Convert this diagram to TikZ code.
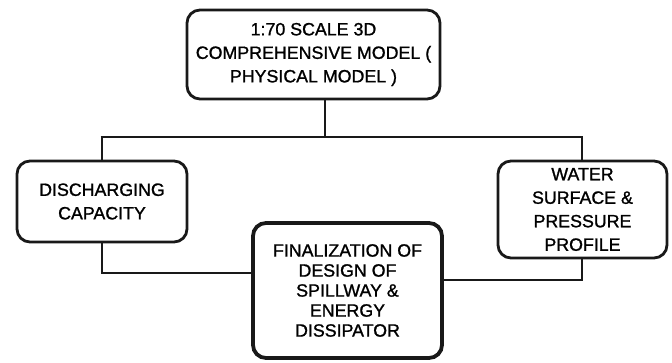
\documentclass[tikz,border=0pt]{standalone}
\usepackage{fontspec}
\setmainfont{Liberation Sans}
\newfontfamily\medfont{Liberation Sans}[FakeBold=1.2]
\begin{document}
\begin{tikzpicture}[x=1pt,y=-1pt,
  box/.style={draw=black!90, line width=2.8pt, rounded corners=13pt, align=center,
    inner sep=0pt, text=black, font=\medfont\fontsize{17.8}{23.5}\selectfont},
  boldbox/.style={box, line width=3.8pt, font=\medfont\fontsize{17.8}{20}\selectfont},
  link/.style={draw=black!90, line width=2.8pt}]
\useasboundingbox (0,0) rectangle (672,363);
\node[box, minimum width=253pt, minimum height=89pt] (top) at (313.5,54.5)
  {1:70 SCALE 3D\\COMPREHENSIVE MODEL (\\PHYSICAL MODEL )};
\node[box, minimum width=170pt, minimum height=81pt] (dis) at (102,201.5)
  {DISCHARGING\\CAPACITY};
\node[box, minimum width=169pt, minimum height=97pt] (wsp) at (582.5,209.5)
  {WATER\\SURFACE \&\\PRESSURE\\PROFILE};
\node[boldbox, minimum width=189pt, minimum height=135pt] (fin) at (347.5,290.5)
  {FINALIZATION OF\\DESIGN OF\\SPILLWAY \&\\ENERGY\\DISSIPATOR};
\coordinate (busT) at (325,137);
\coordinate (busL) at (102,137);
\coordinate (busR) at (582,137);
\coordinate (joinL) at (102,273);
\coordinate (joinR) at (582,280);
\draw[link] (top.south -| busT) -- (busT);
\draw[link] ([xshift=-1.4pt]busL) -- ([xshift=1.4pt]busR);
\draw[link] (busL) -- (dis.north -| busL);
\draw[link] (busR) -- (wsp.north -| busR);
\draw[link] (dis.south -| joinL) -- (joinL) -- (fin.west |- joinL);
\draw[link] (wsp.south -| joinR) -- (joinR) -- (fin.east |- joinR);
\end{tikzpicture}
\end{document}
